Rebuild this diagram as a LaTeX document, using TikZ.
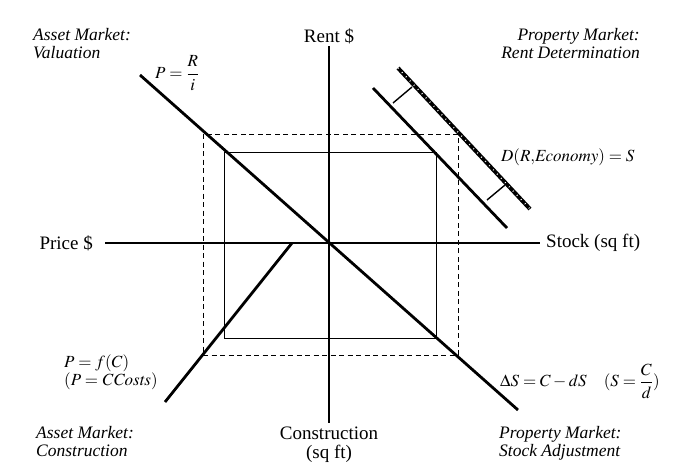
\documentclass[tikz,border=0pt]{standalone}
\usepackage{amsmath}
\usepackage{mathptmx}
\usepackage[no-math]{fontspec}
\setmainfont{Liberation Serif}
\usetikzlibrary{calc}

\tikzset{
  axisline/.style={line width=1.1pt},
  curveline/.style={line width=2.8pt},
  boxline/.style={line width=0.9pt},
  dashline/.style={line width=0.9pt, dash pattern=on 5pt off 3.5pt},
  tickline/.style={line width=1.4pt},
  axislbl/.style={font=\fontsize{19}{19}\selectfont, inner sep=1pt},
  quadlbl/.style={font=\fontsize{17.5}{18.5}\selectfont\itshape, inner sep=0pt, align=left},
  eqlbl/.style={font=\fontsize{17}{18}\selectfont, inner sep=0pt, align=left},
}

\begin{document}
\begin{tikzpicture}[x=1pt,y=-1pt]
  \useasboundingbox (0,0) rectangle (684,463);

  % axes
  \coordinate (axN) at (329,46);
  \coordinate (axS) at (329,423);
  \coordinate (axW) at (105,243);
  \coordinate (axE) at (540,243);
  \draw[axisline] (axN) -- (axS);
  \draw[axisline] (axW) -- (axE);
  \node[axislbl] (rent) at (329,36) {Rent \$};
  \node[axislbl, anchor=east] (price) at (94,243) {Price \$};
  \node[axislbl, anchor=west] (stock) at (545,243) {Stock (sq ft)};
  \node[axislbl, align=center, anchor=north] (constr) at (329,426) {Construction\\(sq ft)};

  % equilibrium boxes
  \draw[boxline] (224,152) rectangle (436,338);
  \draw[dashline] (203,134) rectangle (458,355);

  % the four schedules
  \coordinate (valA) at (140,75);
  \coordinate (valB) at (518,410);
  \coordinate (conA) at (165,402);
  \coordinate (conB) at (292,243);
  \coordinate (demA) at (373,88);
  \coordinate (demB) at (507,228);
  \coordinate (shiftA) at (398,68);
  \coordinate (shiftB) at (530,209);
  \draw[curveline] (valA) -- (valB);
  \draw[curveline] (conA) -- (conB);
  \draw[curveline] (demA) -- (demB);
  \draw[curveline, line width=4pt] (shiftA) -- (shiftB);
  \draw[white, line width=1.4pt, dash pattern=on 0.8pt off 5pt] (shiftA) -- (shiftB);

  % shift marks
  \coordinate (t1a) at (393,103);
  \coordinate (t1b) at (412,87);
  \coordinate (t2a) at (487,200);
  \coordinate (t2b) at (505,185);
  \draw[tickline] (t1a) -- (t1b);
  \draw[tickline] (t2a) -- (t2b);

  % quadrant titles
  \node[quadlbl, anchor=north west] (qNW) at (33,28) {Asset Market:\\Valuation};
  \node[quadlbl, anchor=north east, align=right] (qNE) at (640,28) {Property Market:\\Rent Determination};
  \node[quadlbl, anchor=north west] (qSW) at (36,426) {Asset Market:\\Construction};
  \node[quadlbl, anchor=north west] (qSE) at (499,426) {Property Market:\\Stock Adjustment};

  % equations
  \node[eqlbl, anchor=west] (eqval) at (155,73) {$P=\dfrac{R}{i}$};
  \node[eqlbl, anchor=west] (eqdem) at (501,157) {$D(R{,}\mathit{Economy})=S$};
  \node[eqlbl, anchor=west] (eqcon) at (64,372) {$P=f(C)$\\$(P=\mathit{CCosts})$};
  \node[eqlbl, anchor=west] (eqstk) at (500,381) {$\Delta S=C-dS\quad(S=\dfrac{C}{d})$};
\end{tikzpicture}
\end{document}
